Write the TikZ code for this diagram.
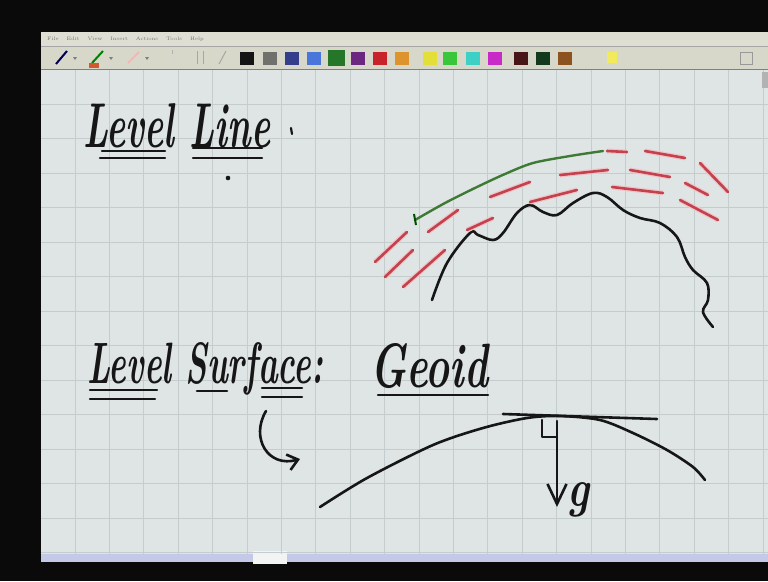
\documentclass[tikz,border=0pt]{standalone}
\usepackage{graphicx}
\usetikzlibrary{arrows.meta}
\definecolor{board}{RGB}{223,228,228}
\definecolor{gridc}{RGB}{196,204,205}
\definecolor{bar}{RGB}{216,216,202}
\definecolor{ink}{RGB}{22,22,22}
\definecolor{inkred}{RGB}{196,66,78}
\definecolor{inkgreen}{RGB}{62,122,52}
\definecolor{palA}{RGB}{20,20,20}
\definecolor{palB}{RGB}{112,112,108}
\definecolor{palC}{RGB}{52,62,138}
\definecolor{palD}{RGB}{72,118,218}
\definecolor{palE}{RGB}{38,118,42}
\definecolor{palF}{RGB}{108,40,128}
\definecolor{palG}{RGB}{200,34,42}
\definecolor{palH}{RGB}{222,148,44}
\definecolor{palI}{RGB}{228,222,56}
\definecolor{palJ}{RGB}{58,198,58}
\definecolor{palK}{RGB}{62,208,198}
\definecolor{palL}{RGB}{200,42,200}
\definecolor{palM}{RGB}{72,22,22}
\definecolor{palN}{RGB}{20,58,30}
\definecolor{palO}{RGB}{140,82,32}

\begin{document}
\begin{tikzpicture}[x=1pt,y=-1pt,
  ink/.style={draw=ink,line width=2.6pt,line cap=round,line join=round},
  redink/.style={draw=inkred,line width=2.6pt,line cap=round,preaction={draw=inkred!30,line width=5pt}},
  hand/.style={inner sep=0pt,anchor=base west,text=ink,font=\bfseries\itshape}]
  \useasboundingbox (0,0) rectangle (768,581);
  \fill[black!96] (0,0) rectangle (768,581);

  \fill[board] (41,70) rectangle (768,556);
  \fill[blue!12!board] (41,554) rectangle (768,562);
  \fill[white!60!board] (253,551) rectangle (287,564);
  \foreach \x in {75,109.4,...,768} \draw[gridc,line width=0.8pt] (\x,70) -- (\x,554);
  \foreach \y in {104,138.5,...,554} \draw[gridc,line width=0.8pt] (41,\y) -- (768,\y);
  \fill[gray!60] (762,72) rectangle (768,88);

  \fill[bar!85!white] (41,32) rectangle (768,46);
  \fill[bar] (41,46) rectangle (768,70);
  \draw[gray!70] (41,46) -- (768,46);
  \draw[gray] (41,69.5) -- (768,69.5);
  \node[font=\fontsize{5}{5}\selectfont,text=black!55,anchor=west,inner sep=0pt] (menu) at (47,39)
    {File\hspace{8pt}Edit\hspace{8pt}View\hspace{8pt}Insert\hspace{8pt}Actions\hspace{8pt}Tools\hspace{8pt}Help};

  \draw[blue!35!black,line width=2pt] (56,64) -- (67,51);
  \draw[green!50!black,line width=2pt] (92,63) -- (103,51);
  \fill[brown!70!red] (89,63) rectangle (99,68);
  \draw[red!30,line width=2pt] (128,63) -- (139,52);
  \foreach \x in {75,111,147} \fill[gray] (\x-2,57) -- (\x+2,57) -- (\x,60) -- cycle;
  \draw[gray!60,line width=0.8pt] (172,50) -- (172,54);
  \draw[gray!70,line width=1pt] (197,51) -- (197,64) (203,51) -- (203,64);
  \draw[gray!70,line width=1pt] (219,64) -- (226,51);
  \foreach \cx/\col in {247/palA,270/palB,292/palC,314/palD,358/palF,380/palG,402/palH,
      430/palI,450/palJ,473/palK,495/palL,521/palM,543/palN,565/palO}
    \fill[\col] (\cx-7,52) rectangle (\cx+7,65);
  \fill[palE] (328,50) rectangle (345,66);
  \fill[yellow!60!bar] (607,52) rectangle (617,63);
  \draw[gray!80,line width=1pt] (740,52) rectangle (752,64);

  \node[hand] (levelline) at (83,147) {\resizebox{187pt}{44pt}{Level Line}};
  \draw[ink,line width=2.2pt] (291,128) -- (292,134);
  \draw[ink,line width=2.2pt] (102,151) -- (165,151) (100,158) -- (165,158);
  \draw[ink,line width=2.2pt] (193,148) -- (262,148) (193,158) -- (262,158);
  \fill[ink] (228,178) circle (1.3pt);

  \draw[ink] plot[smooth,tension=0.6] coordinates {(432,300) (447,263) (470,233) (478,235) (493,240)
    (503,233) (517,213) (530,205) (543,212) (557,215) (573,203) (593,193) (607,197) (623,210)
    (640,218) (660,223) (677,237) (685,257) (693,270) (707,283) (708,300) (703,312) (713,327)};
  \draw[inkgreen,line width=2.4pt,line cap=round] plot[smooth] coordinates
    {(415,220) (445,203) (477,187) (505,174) (533,163) (570,156) (603,151)};
  \draw[green!30!black,line width=2pt] (414,214) -- (416,225);
  \foreach \xa/\ya/\xb/\yb in {375/262/407/232,607/151/627/152,645/151/685/158,700/163/728/192,
      385/277/413/250,428/232/458/210,490/197/530/182,560/175/608/170,630/170/670/177,685/183/708/195,
      403/287/445/250,467/230/493/218,530/202/577/190,612/187/663/193,680/200/718/220}
    \draw[redink] (\xa,\ya) -- (\xb,\yb);

  \node[hand] (levelsurf) at (87,383) {\resizebox{236pt}{41pt}{Level Surface:}};
  \draw[ink,line width=2.2pt] (90,390) -- (157,390) (90,399) -- (155,399);
  \draw[ink,line width=2.6pt] (197,391) -- (227,391);
  \draw[ink,line width=2.2pt] (262,388) -- (302,388) (262,397) -- (302,397);
  \coordinate (ustart) at (266,411);
  \coordinate (uend) at (300,459);
  \draw[ink,-{Straight Barb[length=10pt,width=16pt]}] (ustart) .. controls (250,438) and (268,468) .. (uend);

  \node[hand] (geoid) at (370,387) {\resizebox{118pt}{44pt}{Geoid}};
  \draw[ink,line width=2.2pt] (378,395) -- (488,395);

  \draw[ink] plot[smooth] coordinates {(320,507) (367,478) (433,445) (483,428) (527,418)
    (560,416) (600,420) (633,433) (667,450) (693,467) (705,480)};
  \draw[ink] (503,414) -- (657,419);
  \draw[ink,line width=2.2pt] (542,420) -- (542,437) -- (557,437);
  \coordinate (foot) at (557,421);
  \coordinate (gtip) at (557,507);
  \draw[ink,-{Straight Barb[length=20pt,width=19pt]}] (foot) -- (gtip);
  \node[hand] (gsym) at (567,506) {\resizebox{22pt}{24pt}{g}};
\end{tikzpicture}
\end{document}
